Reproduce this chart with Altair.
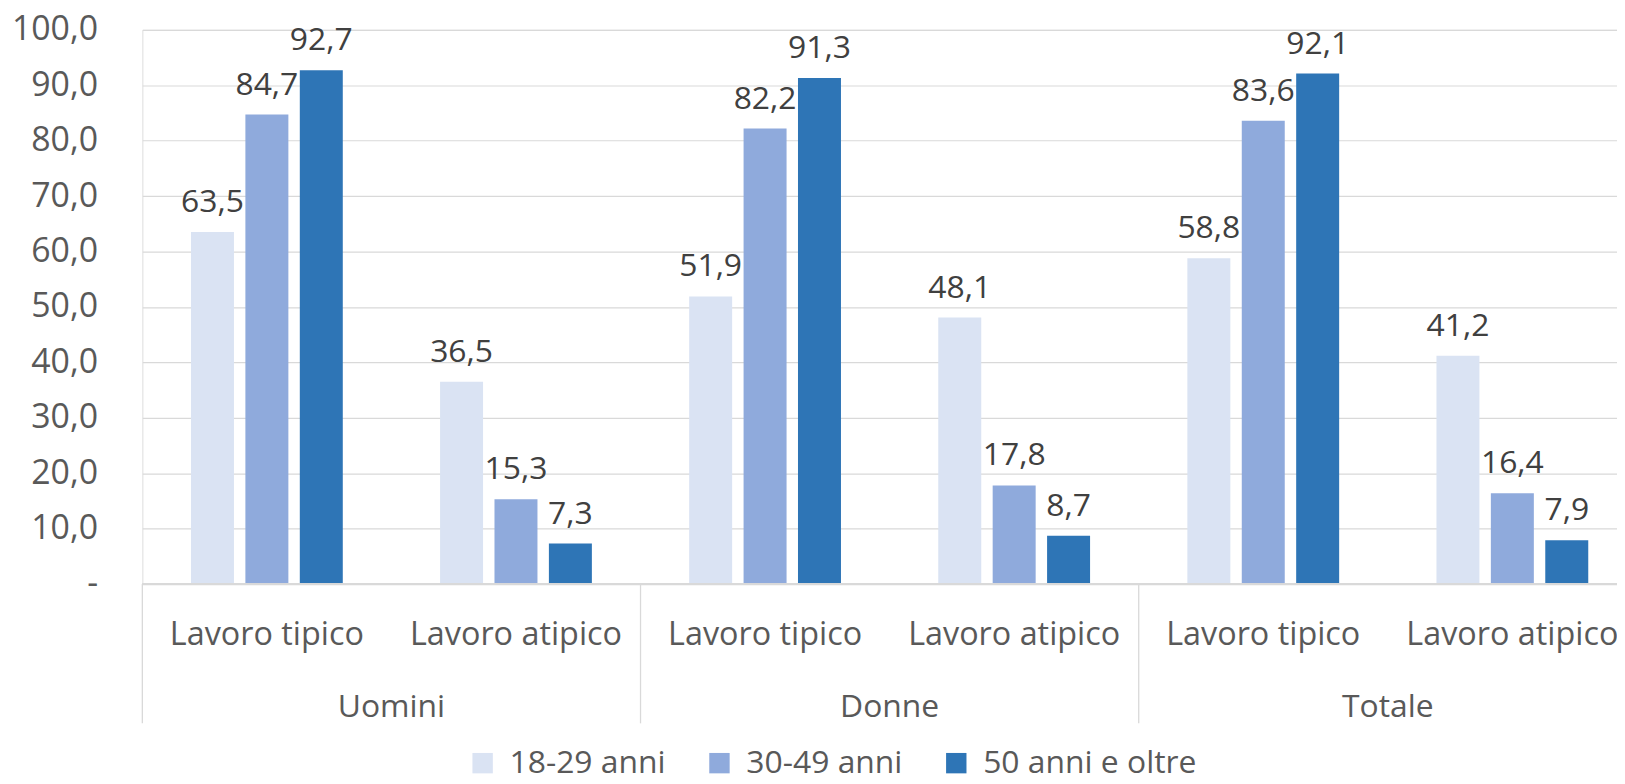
import altair as alt
import pandas as pd

groups = ["Uomini", "Donne", "Totale"]
subs = ["Lavoro tipico", "Lavoro atipico"]
series = ["18-29 anni", "30-49 anni", "50 anni e oltre"]
colors = ["#DAE3F3", "#8FAADC", "#2E75B6"]

v_18_29 = [63.5, 36.5, 51.9, 48.1, 58.8, 41.2]
v_30_49 = [84.7, 15.3, 82.2, 17.8, 83.6, 16.4]
v_50 = [92.7, 7.3, 91.3, 8.7, 92.1, 7.9]

keys = [f"{g}|{s}" for g in groups for s in subs]

rows = []
for sname, vals in zip(series, [v_18_29, v_30_49, v_50]):
    for k, v in zip(keys, vals):
        rows.append({"key": k, "serie": sname, "val": v,
                     "lab": f"{v:.1f}".replace(".", ",")})
df = pd.DataFrame(rows)

cat_df = pd.DataFrame({"key": keys, "sub": [k.split("|")[1] for k in keys]})
grp_df = pd.DataFrame({"key": [f"{g}|{subs[1]}" for g in groups], "grp": groups})
sep_df = pd.DataFrame({"key": [f"{g}|{subs[0]}" for g in groups]})

W, H = 1502, 557
PL = 135
FONT = "Open Sans"
AX = "#595959"

xs = alt.Scale(domain=keys, paddingInner=0, paddingOuter=0)
xo = alt.Scale(domain=series, paddingInner=0.21, paddingOuter=0.894)
ys = alt.Scale(domain=[0, 100], nice=False)

bars = alt.Chart(df).mark_bar().encode(
    x=alt.X("key:N", scale=xs, axis=None, sort=keys),
    xOffset=alt.XOffset("serie:N", scale=xo, sort=series),
    y=alt.Y("val:Q", scale=ys, title=None,
            axis=alt.Axis(values=list(range(0, 101, 10)),
                          labelExpr="datum.value == 0 ? '-  ' : replace(format(datum.value, '.1f'), '.', ',')",
                          labelFontSize=34, labelColor=AX, labelFont=FONT,
                          labelPadding=45, ticks=False, domain=False,
                          grid=True, gridColor="#D9D9D9", gridWidth=1.2)),
    color=alt.Color("serie:N", scale=alt.Scale(domain=series, range=colors),
                    sort=series,
                    legend=alt.Legend(title=None, orient="none", legendX=326, legendY=721,
                                      direction="horizontal", symbolType="square",
                                      symbolSize=420, symbolStrokeWidth=0,
                                      labelFontSize=32, labelColor=AX, labelFont=FONT,
                                      labelLimit=500,
                                      labelOffset=11, columnPadding=38)),
)

labels = alt.Chart(df).mark_text(fontSize=32, font=FONT, color="#404040",
                                 baseline="alphabetic", dy=-20).encode(
    x=alt.X("key:N", scale=xs, axis=None, sort=keys),
    xOffset=alt.XOffset("serie:N", scale=xo, sort=series),
    y=alt.Y("val:Q", scale=ys),
    text="lab:N",
)

baseline = alt.Chart(cat_df).mark_rule(color="#D9D9D9", strokeWidth=1.6).encode(
    x=alt.value(0), x2=alt.value(W), y=alt.value(H))

seps = alt.Chart(sep_df).mark_rule(color="#D9D9D9", strokeWidth=1.3).encode(
    x=alt.X("key:N", scale=xs, axis=None, sort=keys, bandPosition=0),
    y=alt.value(H), y2=alt.value(H + 140))

sub_txt = alt.Chart(cat_df).mark_text(fontSize=32.5, font=FONT, color=AX,
                                      baseline="alphabetic").encode(
    x=alt.X("key:N", scale=xs, axis=None, sort=keys),
    y=alt.value(H + 61),
    text="sub:N",
)

grp_txt = alt.Chart(grp_df).mark_text(fontSize=32, font=FONT, color=AX,
                                      baseline="alphabetic").encode(
    x=alt.X("key:N", scale=xs, axis=None, sort=keys, bandPosition=0),
    y=alt.value(H + 134),
    text="grp:N",
)

chart = alt.layer(bars, labels, baseline, seps, sub_txt, grp_txt).properties(
    width=W, height=H,
    autosize=alt.AutoSizeParams(type="none"),
    padding={"left": PL, "top": 20, "right": 1617 - PL - W, "bottom": 190},
).configure_view(stroke=None).configure(background="white")

chart.save("out.html", embed_options={"renderer": "svg", "actions": False})
